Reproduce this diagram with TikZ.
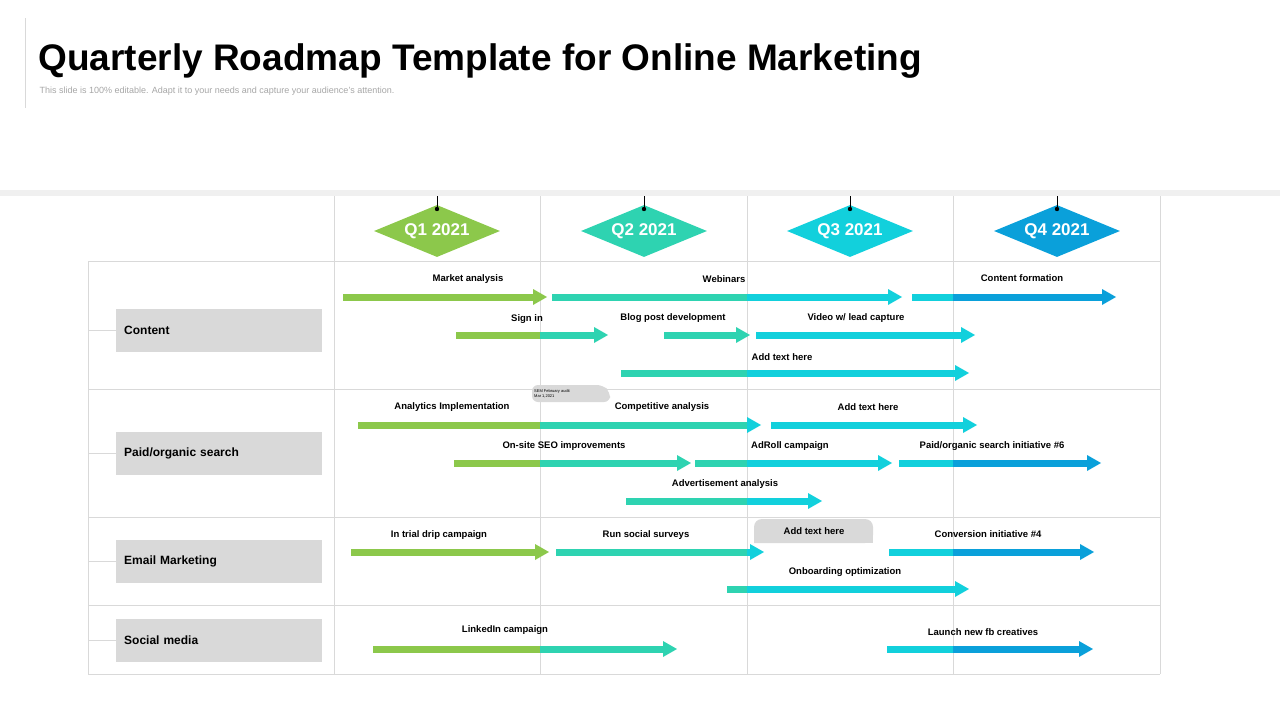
\documentclass[tikz,border=0pt]{standalone}
\usepackage{fontspec}
\setmainfont{Liberation Sans}
\usetikzlibrary{shapes.geometric}
\definecolor{qgreen}{HTML}{8CC84B}
\definecolor{qteal}{HTML}{2ED3B1}
\definecolor{qcyan}{HTML}{12D0DC}
\definecolor{qblue}{HTML}{0AA0DA}
\definecolor{gridgray}{HTML}{D9D9D9}
\definecolor{boxgray}{HTML}{D9D9D9}
% bar from #1 to #3 at height #4, colour #5 up to #2, then #6
\newcommand{\roadarrow}[6]{%
  \pgfmathsetmacro{\splitx}{min(#2,#3-14)}
  \fill[#5] (#1,#4-3.5) rectangle (\splitx,#4+3.5);
  \fill[#6] (\splitx,#4-3.5) rectangle (#3-14,#4+3.5);
  \fill[#6] (#3-14,#4-8) -- (#3,#4) -- (#3-14,#4+8) -- cycle;}
\begin{document}
\begin{tikzpicture}[x=1pt,y=-1pt,
  quarter/.style={diamond,aspect=2.4,minimum width=126pt,minimum height=52pt,inner sep=0pt,text=white,font=\fontsize{17}{19}\selectfont\bfseries},
  rowlabel/.style={fill=boxgray,minimum width=206pt,minimum height=43pt,anchor=west,text width=190pt,font=\fontsize{12}{14}\selectfont\bfseries},
  tasklabel/.style={font=\fontsize{9.5}{11}\selectfont\bfseries,inner sep=0pt}]
  \useasboundingbox (0,0) rectangle (1280,720);
  % title
  \draw[gridgray] (25,18) -- (25,108);
  \node[anchor=base west,font=\fontsize{37}{40}\selectfont\bfseries] (title) at (35,70) {Quarterly Roadmap Template for Online Marketing};
  \node[anchor=base west,text=gray!70,font=\fontsize{9}{10}\selectfont] (subtitle) at (36,93) {This slide is 100\% editable. Adapt it to your needs and capture your audience’s attention.};
  \fill[gray!12] (0,190) rectangle (1280,196);
  % grid
  \foreach \x in {334,540,747,953,1160} \draw[gridgray] (\x,196) -- (\x,674);
  \draw[gridgray] (88,261) -- (88,674);
  \foreach \y in {261,389,517,605,674} \draw[gridgray] (88,\y) -- (1160,\y);
  % quarters
  \foreach \cx/\col/\q in {437/qgreen/Q1, 644/qteal/Q2, 850/qcyan/Q3, 1057/qblue/Q4} {
    \node[quarter,fill=\col] (\q) at (\cx,231) {\q\ 2021};
    \draw (\cx,196) -- (\cx,209);
    \fill (\cx,209) circle (2.2pt);
  }
  % rows
  \foreach \y/\name/\txt in {330/content/Content, 453/search/{Paid/organic search}, 561/email/Email Marketing, 640/social/Social media} {
    \draw[gridgray] (88,\y) -- (116,\y);
    \node[rowlabel] (\name) at (116,\y) {\txt};
  }
  % Content
  \roadarrow{343}{547}{547}{297}{qgreen}{qgreen}
  \roadarrow{552}{747}{902}{297}{qteal}{qcyan}
  \roadarrow{912}{953}{1116}{297}{qcyan}{qblue}
  \roadarrow{456}{540}{608}{335}{qgreen}{qteal}
  \roadarrow{664}{750}{750}{335}{qteal}{qteal}
  \roadarrow{756}{756}{975}{335}{qcyan}{qcyan}
  \roadarrow{621}{747}{969}{373}{qteal}{qcyan}
  \node[tasklabel] (t1) at (468,279) {Market analysis};
  \node[tasklabel] (t2) at (724,279) {Webinars};
  \node[tasklabel] (t3) at (1022,278) {Content formation};
  \node[tasklabel] (t4) at (527,319) {Sign in};
  \node[tasklabel] (t5) at (673,318) {Blog post development};
  \node[tasklabel] (t6) at (856,318) {Video w/ lead capture};
  \node[tasklabel] (t7) at (782,357) {Add text here};
  % Paid/organic search
  \fill[boxgray,rounded corners=6pt] (532,385) -- (603,385) -- (610,392) -- (610,402) -- (532,402) -- cycle;
  \node[anchor=west,align=left,inner sep=0pt,font=\fontsize{4}{5}\selectfont] (sem) at (534,393.5) {SEM February audit\\Mar 1,2021};
  \fill[qgreen] (358,421.5) rectangle (540,428.5);
  \roadarrow{540}{747}{761}{425}{qteal}{qcyan}
  \roadarrow{771}{771}{977}{425}{qcyan}{qcyan}
  \roadarrow{454}{540}{691}{463}{qgreen}{qteal}
  \roadarrow{695}{747}{892}{463}{qteal}{qcyan}
  \roadarrow{899}{953}{1101}{463}{qcyan}{qblue}
  \roadarrow{626}{747}{822}{501}{qteal}{qcyan}
  \node[tasklabel] (t8) at (452,407) {Analytics Implementation};
  \node[tasklabel] (t9) at (662,407) {Competitive analysis};
  \node[tasklabel] (t10) at (868,407) {Add text here};
  \node[tasklabel] (t11) at (564,446) {On-site SEO improvements};
  \node[tasklabel] (t12) at (790,446) {AdRoll campaign};
  \node[tasklabel] (t13) at (992,446) {Paid/organic search initiative \#6};
  \node[tasklabel] (t14) at (725,484) {Advertisement analysis};
  % Email Marketing
  \fill[boxgray,rounded corners=8pt] (754,543) -- (754,519) -- (873,519) -- (873,543) [sharp corners] -- cycle;
  \fill[boxgray] (754,535) rectangle (873,543);
  \node[tasklabel] (t15) at (814,531) {Add text here};
  \roadarrow{351}{549}{549}{552}{qgreen}{qgreen}
  \roadarrow{556}{747}{764}{552}{qteal}{qcyan}
  \roadarrow{889}{953}{1094}{552}{qcyan}{qblue}
  \roadarrow{727}{747}{969}{589}{qteal}{qcyan}
  \node[tasklabel] (t16) at (439,535) {In trial drip campaign};
  \node[tasklabel] (t17) at (646,535) {Run social surveys};
  \node[tasklabel] (t18) at (988,534) {Conversion initiative \#4};
  \node[tasklabel] (t19) at (845,572) {Onboarding optimization};
  % Social media
  \roadarrow{373}{540}{677}{649}{qgreen}{qteal}
  \roadarrow{887}{953}{1093}{649}{qcyan}{qblue}
  \node[tasklabel] (t20) at (505,630) {LinkedIn campaign};
  \node[tasklabel] (t21) at (983,632) {Launch new fb creatives};
\end{tikzpicture}
\end{document}
